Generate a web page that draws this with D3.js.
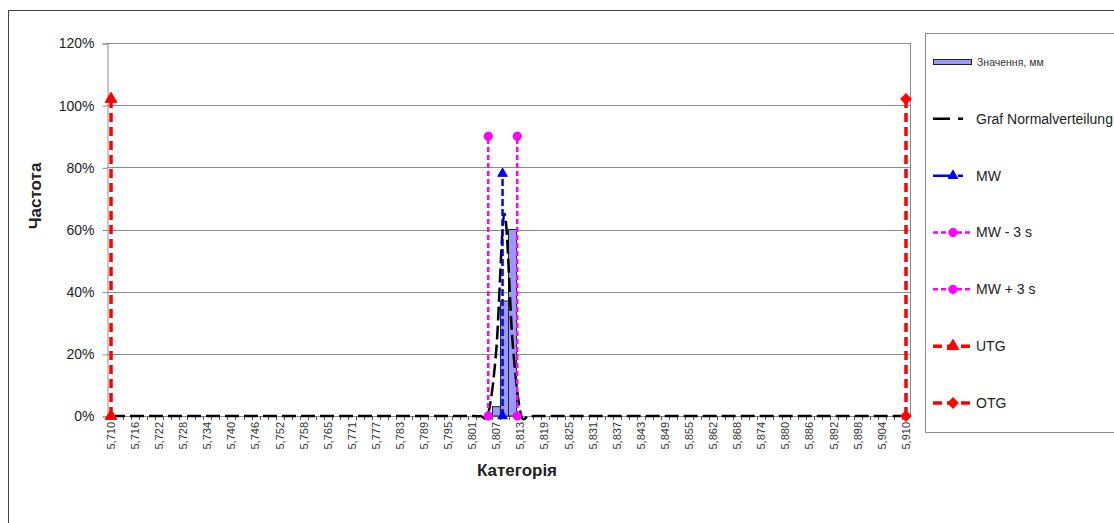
<!DOCTYPE html>
<html>
<head>
<meta charset="utf-8">
<script src="https://cdn.jsdelivr.net/npm/d3@7"></script>
<style>
  body { margin: 0; background: #fff; }
  svg { font-family: "Liberation Sans", Arial, sans-serif; }
</style>
</head>
<body>
<div id="chart"></div>
<script>
// category bins (x axis), every 3rd one is labelled
var categories = [
  "5,710","5,712","5,714","5,716","5,718","5,720","5,722","5,724","5,726","5,728",
  "5,730","5,732","5,734","5,736","5,738","5,740","5,742","5,744","5,746","5,748",
  "5,750","5,752","5,754","5,756","5,758","5,761","5,763","5,765","5,767","5,769",
  "5,771","5,773","5,775","5,777","5,779","5,781","5,783","5,785","5,787","5,789",
  "5,791","5,793","5,795","5,797","5,799","5,801","5,803","5,805","5,807","5,809",
  "5,811","5,813","5,815","5,817","5,819","5,821","5,823","5,825","5,827","5,829",
  "5,831","5,833","5,835","5,837","5,839","5,841","5,843","5,845","5,847","5,849",
  "5,851","5,853","5,855","5,857","5,859","5,862","5,864","5,866","5,868","5,870",
  "5,872","5,874","5,876","5,878","5,880","5,882","5,884","5,886","5,888","5,890",
  "5,892","5,894","5,896","5,898","5,900","5,902","5,904","5,906","5,908","5,910"
];

// histogram frequency per bin ("Значення, мм")
var freq = [
  0,0,0,0,0,0,0,0,0,0,
  0,0,0,0,0,0,0,0,0,0,
  0,0,0,0,0,0,0,0,0,0,
  0,0,0,0,0,0,0,0,0,0,
  0,0,0,0,0,0,0,0,0.03,0.37,
  0.60,0,0,0,0,0,0,0,0,0,
  0,0,0,0,0,0,0,0,0,0,
  0,0,0,0,0,0,0,0,0,0,
  0,0,0,0,0,0,0,0,0,0,
  0,0,0,0,0,0,0,0,0,0
];

// normal distribution curve per bin ("Graf Normalverteilung")
var normal = [
  0,0,0,0,0,0,0,0,0,0,
  0,0,0,0,0,0,0,0,0,0,
  0,0,0,0,0,0,0,0,0,0,
  0,0,0,0,0,0,0,0,0,0,
  0,0,0,0,0,0,0,0.01,0.22,0.65,
  0.24,0.01,0,0,0,0,0,0,0,0,
  0,0,0,0,0,0,0,0,0,0,
  0,0,0,0,0,0,0,0,0,0,
  0,0,0,0,0,0,0,0,0,0,
  0,0,0,0,0,0,0,0,0,0
];

// vertical reference lines: [x value, top value]
var mwLine = [5.8085, 0.78];
var mwMinus = [5.8049, 0.90];
var mwPlus = [5.8122, 0.90];
var utgLine = [5.710, 1.02];
var otgLine = [5.910, 1.02];

var yTicks = [0, 0.2, 0.4, 0.6, 0.8, 1.0, 1.2];

var legendNames = ["Значення, мм", "Graf Normalverteilung", "MW", "MW - 3 s", "MW + 3 s", "UTG", "OTG"];

var width = 1114, height = 523;
var plot = { left: 107, right: 910, top: 43, bottom: 416 };

var svg = d3.select("#chart").append("svg")
    .attr("width", width)
    .attr("height", height);

// outer chart border
svg.append("rect")
    .attr("x", 8.5).attr("y", 10.5)
    .attr("width", width).attr("height", height)
    .attr("fill", "none")
    .attr("stroke", "#444");

var xBand = d3.scaleBand()
    .domain(categories)
    .range([plot.left, plot.right])
    .padding(0);

var bw = xBand.bandwidth();

// numeric x for the vertical lines, first bin centre .. last bin centre
var xVal = d3.scaleLinear()
    .domain([5.710, 5.910])
    .range([xBand(categories[0]) + bw / 2, xBand(categories[categories.length - 1]) + bw / 2]);

var yScale = d3.scaleLinear()
    .domain([0, 1.2])
    .range([plot.bottom, plot.top]);

// gridlines
svg.append("g")
    .selectAll("line")
    .data(yTicks.slice(1))
    .enter().append("line")
    .attr("x1", plot.left).attr("x2", plot.right)
    .attr("y1", function(d) { return Math.round(yScale(d)) + 0.5; })
    .attr("y2", function(d) { return Math.round(yScale(d)) + 0.5; })
    .attr("stroke", "#8c8c8c");

// right border of plot area
svg.append("line")
    .attr("x1", plot.right + 0.5).attr("x2", plot.right + 0.5)
    .attr("y1", plot.top).attr("y2", plot.bottom)
    .attr("stroke", "#8c8c8c");

// y axis
var yAxis = d3.axisLeft(yScale)
    .tickValues(yTicks)
    .tickSize(5)
    .tickPadding(8)
    .tickFormat(d3.format(".0%"));

var yG = svg.append("g")
    .attr("transform", "translate(" + (plot.left + 0.5) + ",0.5)")
    .call(yAxis);
yG.select(".domain").attr("stroke", "#8c8c8c");
yG.selectAll(".tick line").attr("stroke", "#8c8c8c");
yG.selectAll(".tick text")
    .attr("font-size", 14)
    .attr("font-family", "Liberation Sans, Arial, sans-serif")
    .attr("fill", "#222");

// x axis: ticks at bin boundaries, labels every 3rd bin
var xG = svg.append("g").attr("class", "xAxis");
xG.append("line")
    .attr("x1", plot.left).attr("x2", plot.right)
    .attr("y1", plot.bottom + 0.5).attr("y2", plot.bottom + 0.5)
    .attr("stroke", "#8c8c8c");
xG.selectAll("line.tk")
    .data(categories)
    .enter().append("line")
    .attr("class", "tk")
    .attr("x1", function(d) { return Math.round(xBand(d)) + 0.5; })
    .attr("x2", function(d) { return Math.round(xBand(d)) + 0.5; })
    .attr("y1", plot.bottom).attr("y2", plot.bottom + 4)
    .attr("stroke", "#555");
xG.selectAll("text")
    .data(categories.filter(function(d, i) { return i % 3 === 0; }))
    .enter().append("text")
    .attr("transform", function(d) {
      return "translate(" + (xBand(d) + bw / 2) + "," + (plot.bottom + 6) + ")rotate(-90)";
    })
    .attr("dy", "0.35em")
    .attr("text-anchor", "end")
    .attr("font-size", 11)
    .attr("fill", "#333")
    .text(function(d) { return d; });

// histogram bars
svg.append("g")
    .selectAll("rect")
    .data(categories.map(function(c, i) { return { c: c, v: freq[i] }; }).filter(function(d) { return d.v > 0; }))
    .enter().append("rect")
    .attr("x", function(d) { return xBand(d.c); })
    .attr("y", function(d) { return yScale(d.v); })
    .attr("width", bw)
    .attr("height", function(d) { return plot.bottom - yScale(d.v); })
    .attr("fill", "#9999ff")
    .attr("stroke", "#222")
    .attr("stroke-width", 1);

// normal curve
var normLine = d3.line()
    .x(function(d, i) { return xBand(categories[i]) + bw / 2; })
    .y(function(d) { return yScale(d); })
    .curve(d3.curveCatmullRom.alpha(0));

svg.append("path")
    .datum(normal)
    .attr("d", normLine)
    .attr("fill", "none")
    .attr("stroke", "#000")
    .attr("stroke-width", 2.5)
    .attr("stroke-dasharray", "14,5");

// marker helpers
function marker(g, type, x, y, size, color) {
  var sym = { tri: d3.symbolTriangle, circ: d3.symbolCircle, dia: d3.symbolSquare }[type];
  var p = g.append("path")
      .attr("d", d3.symbol().type(sym).size(size)())
      .attr("fill", color)
      .attr("stroke", color);
  if (type === "dia") {
    p.attr("transform", "translate(" + x + "," + y + ")rotate(45)");
  } else {
    p.attr("transform", "translate(" + x + "," + y + ")");
  }
}

function vLine(spec, color, widthPx, dash, mType, mSize) {
  var g = svg.append("g");
  var x = xVal(spec[0]);
  g.append("line")
      .attr("x1", x).attr("x2", x)
      .attr("y1", yScale(0)).attr("y2", yScale(spec[1]))
      .attr("stroke", color)
      .attr("stroke-width", widthPx)
      .attr("stroke-dasharray", dash);
  marker(g, mType, x, yScale(0), mSize, color);
  marker(g, mType, x, yScale(spec[1]), mSize, color);
}

vLine(mwLine, "#0000ff", 2.5, "7,3", "tri", 40);
vLine(mwMinus, "#ff00ff", 2.5, "5,3", "circ", 55);
vLine(mwPlus, "#ff00ff", 2.5, "5,3", "circ", 55);
vLine(utgLine, "#ff0000", 3.5, "9,5", "tri", 60);
vLine(otgLine, "#ff0000", 3.5, "9,5", "dia", 55);

// axis titles
svg.append("text")
    .attr("transform", "translate(35,196)rotate(-90)")
    .attr("text-anchor", "middle")
    .attr("dy", "0.35em")
    .attr("font-size", 17)
    .attr("font-weight", "bold")
    .attr("fill", "#222")
    .text("Частота");

svg.append("text")
    .attr("x", 517).attr("y", 470)
    .attr("text-anchor", "middle")
    .attr("dy", "0.35em")
    .attr("font-size", 17)
    .attr("font-weight", "bold")
    .attr("fill", "#222")
    .text("Категорія");

// legend
var legend = svg.append("g");
legend.append("rect")
    .attr("x", 925.5).attr("y", 33.5)
    .attr("width", 220).attr("height", 399)
    .attr("fill", "#fff")
    .attr("stroke", "#8c8c8c");

var legY = d3.scalePoint()
    .domain(legendNames)
    .range([62, 403]);

var legStyles = [
  { color: "#000", w: 2.5, dash: "17,8,5", m: null },
  { color: "#0000ff", w: 2.5, dash: "17,8,5", m: "tri", ms: 40 },
  { color: "#ff00ff", w: 2.5, dash: "5,3", m: "circ", ms: 55 },
  { color: "#ff00ff", w: 2.5, dash: "5,3", m: "circ", ms: 55 },
  { color: "#ff0000", w: 3.5, dash: "9,5", m: "tri", ms: 60 },
  { color: "#ff0000", w: 3.5, dash: "9,5", m: "dia", ms: 55 }
];

legendNames.forEach(function(name, i) {
  var y = legY(name);
  if (i === 0) {
    legend.append("rect")
        .attr("x", 933.5).attr("y", y - 2.5)
        .attr("width", 38).attr("height", 5)
        .attr("fill", "#9999ff")
        .attr("stroke", "#222");
    legend.append("text")
        .attr("x", 977).attr("y", y)
        .attr("dy", "0.35em")
        .attr("font-size", 10.5)
        .attr("fill", "#333")
        .text(name);
    return;
  }
  var s = legStyles[i - 1];
  legend.append("line")
      .attr("x1", 933).attr("x2", 973)
      .attr("y1", y).attr("y2", y)
      .attr("stroke", s.color)
      .attr("stroke-width", s.w)
      .attr("stroke-dasharray", s.dash);
  if (s.m) marker(legend, s.m, 953, y, s.ms, s.color);
  legend.append("text")
      .attr("x", 976).attr("y", y)
      .attr("dy", "0.35em")
      .attr("font-size", 14)
      .attr("fill", "#222")
      .text(name);
});
</script>
</body>
</html>
